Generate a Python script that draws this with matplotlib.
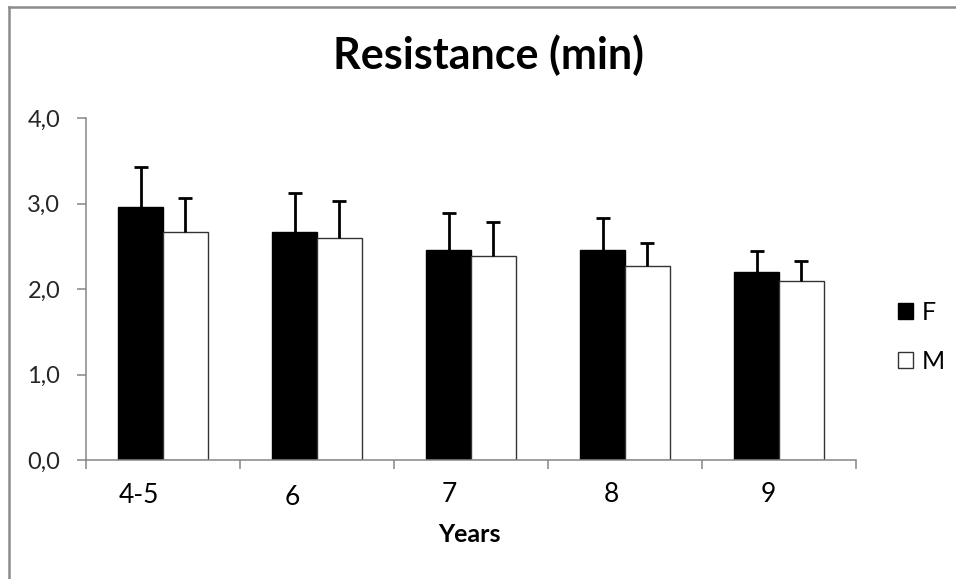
import numpy as np
import matplotlib
matplotlib.use("Agg")
import matplotlib.pyplot as plt
from matplotlib.patches import Patch
from matplotlib.lines import Line2D
from matplotlib.ticker import FuncFormatter
from matplotlib.transforms import blended_transform_factory

# ── data ────────────────────────────────────────────────────────────────────
years = ["4-5", "6", "7", "8", "9"]
f_mean = [2.96, 2.67, 2.46, 2.46, 2.20]
f_sd = [0.47, 0.45, 0.43, 0.37, 0.24]
m_mean = [2.67, 2.60, 2.39, 2.27, 2.10]
m_sd = [0.39, 0.43, 0.39, 0.27, 0.23]
series_labels = ["F", "M"]
y_ticks = [0, 1, 2, 3, 4]

# label placement quirks of the original (category units / figure fraction)
label_dx = [-0.16, -0.16, -0.14, -0.09, -0.07]
label_base = [0.131, 0.128, 0.133, 0.133, 0.133]

plt.rcParams["font.family"] = ["Lato", "DejaVu Sans"]
GRAY = "#868686"

fig = plt.figure(figsize=(9.56, 5.79), dpi=100)
ax = fig.add_axes([0.090, 0.2055, 0.8055, 0.5905])

x = np.arange(len(years))
w = 0.29
ax.bar(x - w / 2, f_mean, w, color="black", edgecolor="black", lw=1, zorder=2)
ax.bar(x + w / 2, m_mean, w, color="white", edgecolor="#333333", lw=1, zorder=2)

# upper-only error bars: hide the lower cap that sits on the bar top
for xs, mean, sd in [(x - w / 2, f_mean, f_sd), (x + w / 2, m_mean, m_sd)]:
    _, caps, _ = ax.errorbar(xs, mean, yerr=[np.zeros(len(sd)), sd], fmt="none",
                             ecolor="black", elinewidth=2, capsize=4.7,
                             capthick=2, zorder=3)
    caps[0].set_visible(False)

ax.set_xlim(-0.5, len(years) - 0.5)
ax.set_ylim(0, 4)
ax.set_yticks(y_ticks)
ax.yaxis.set_major_formatter(FuncFormatter(lambda v, _: f"{v:.1f}".replace(".", ",")))
ax.set_xticks(np.arange(len(years) + 1) - 0.5)
ax.set_xticklabels([])

for s in ["top", "right"]:
    ax.spines[s].set_visible(False)
for s in ["left", "bottom"]:
    ax.spines[s].set_color(GRAY)
    ax.spines[s].set_linewidth(1.1)
ax.tick_params(axis="both", direction="out", color=GRAY, width=1.1, length=6.5)
ax.tick_params(axis="y", labelsize=17, pad=12, labelcolor="#262626")

tr = blended_transform_factory(ax.transData, fig.transFigure)
for i, lab in enumerate(years):
    ax.text(x[i] + label_dx[i], label_base[i], lab, transform=tr,
            ha="center", va="baseline", fontsize=19, color="black")

fig.text(0.4906, 0.064, "Years", ha="center", va="baseline",
         fontsize=18, fontweight="bold")
fig.text(0.5115, 0.880, "Resistance (min)", ha="center", va="baseline",
         fontsize=31, fontweight="bold")

handles = [Patch(facecolor="black", edgecolor="black"),
           Patch(facecolor="white", edgecolor="#333333")]
fig.legend(handles, series_labels, loc="center left",
           bbox_to_anchor=(0.939, 0.418), frameon=False, fontsize=18,
           handlelength=0.62, handleheight=0.62, handletextpad=0.35,
           labelspacing=1.05, borderpad=0, borderaxespad=0)

# outer chart border (only left and top edges fall inside the image)
fig.add_artist(Line2D([9 / 956, 9 / 956], [0, 1 - 7 / 579], transform=fig.transFigure,
                      color="#8c8c8c", lw=1.8))
fig.add_artist(Line2D([9 / 956, 1], [1 - 7 / 579, 1 - 7 / 579], transform=fig.transFigure,
                      color="#8c8c8c", lw=1.8))

fig.savefig("out.png", dpi=100)
